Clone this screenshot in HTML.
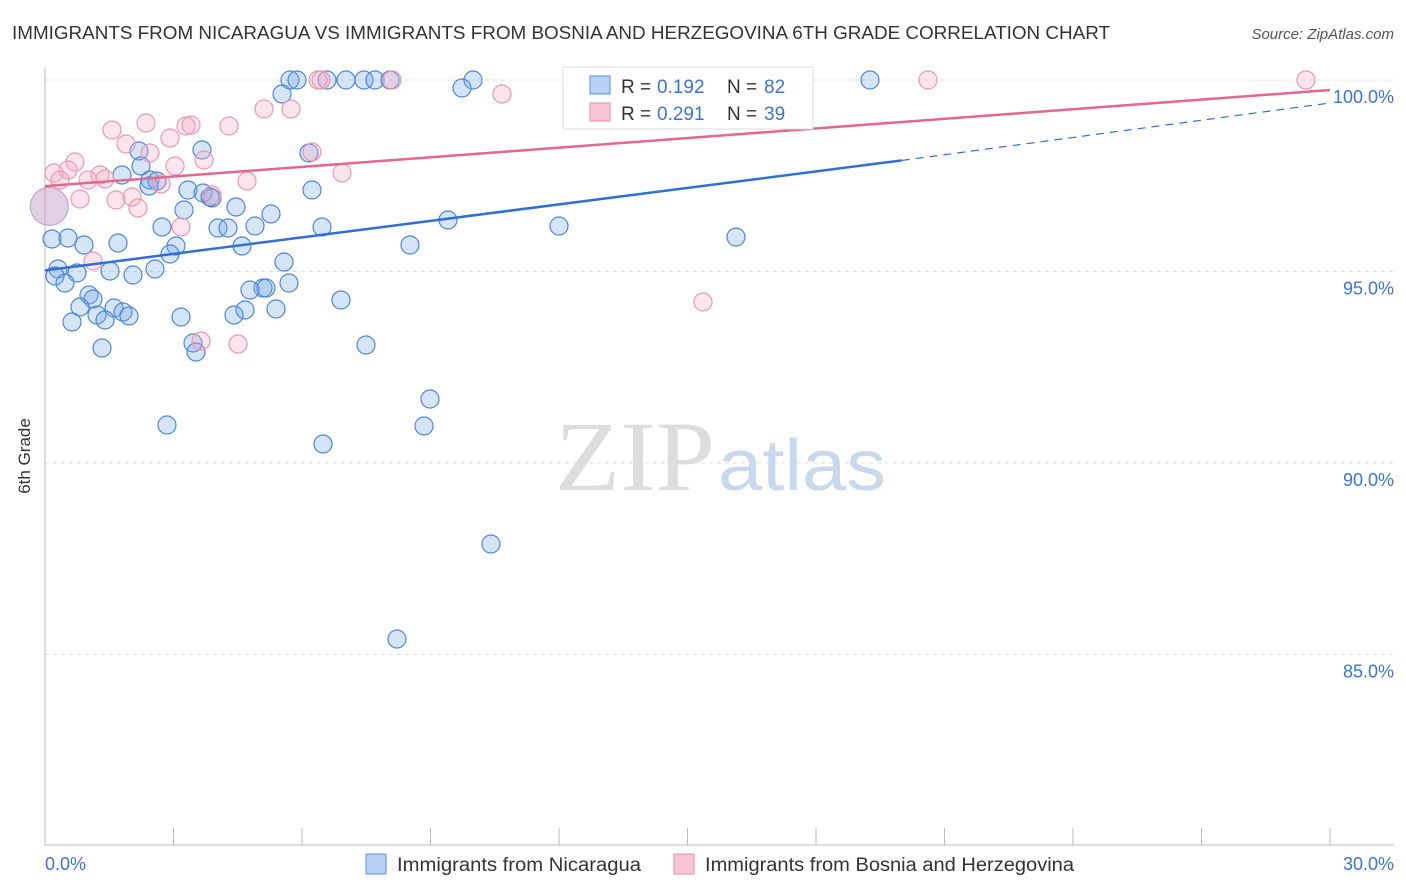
<!DOCTYPE html>
<html><head><meta charset="utf-8"><style>
body{margin:0;background:#fff;font-family:"Liberation Sans",sans-serif;}
svg{display:block}
</style></head><body>
<svg id="chart" width="1406" height="892" xmlns="http://www.w3.org/2000/svg">
<text x="12" y="39" font-size="18" fill="#333" textLength="1098" lengthAdjust="spacingAndGlyphs">IMMIGRANTS FROM NICARAGUA VS IMMIGRANTS FROM BOSNIA AND HERZEGOVINA 6TH GRADE CORRELATION CHART</text>
<text x="1394" y="39" font-size="15" fill="#555" font-style="italic" text-anchor="end">Source: ZipAtlas.com</text>
<text x="555" y="490" font-size="100" fill="#ddd" textLength="160" lengthAdjust="spacingAndGlyphs" font-family="Liberation Serif,serif">ZIP</text>
<text x="718" y="490" font-size="72" fill="#c8d8ef" textLength="168" lengthAdjust="spacingAndGlyphs">atlas</text>
<g id="grid"></g>
<line x1="45" y1="68" x2="45" y2="845" stroke="#bbb"/>
<line x1="45" y1="845" x2="1394" y2="845" stroke="#bbb"/>
<text x="30" y="456" font-size="17" fill="#333" text-anchor="middle" transform="rotate(-90 30 456)">6th Grade</text>
<text x="45" y="870" font-size="18" fill="#3b74d4">0.0%</text>
<text x="1394" y="870" font-size="18" fill="#3b74d4" text-anchor="end">30.0%</text>
<g id="marks"></g>
<g>
<rect x="563" y="67" width="250" height="62" fill="#fff" stroke="#ddd"/>
<rect x="590" y="76" width="20" height="18" fill="#b8d0f3" stroke="#5b8fe0"/>
<text x="621" y="93" font-size="19" fill="#333">R =</text>
<text x="657" y="93" font-size="19" fill="#3b74d4">0.192</text>
<text x="727" y="93" font-size="19" fill="#333">N =</text>
<text x="764" y="93" font-size="19" fill="#3b74d4">82</text>
<rect x="590" y="103" width="20" height="18" fill="#f7c5d3" stroke="#e88aa6"/>
<text x="621" y="120" font-size="19" fill="#333">R =</text>
<text x="657" y="120" font-size="19" fill="#3b74d4">0.291</text>
<text x="727" y="120" font-size="19" fill="#333">N =</text>
<text x="764" y="120" font-size="19" fill="#3b74d4">39</text>
</g>
<g>
<rect x="366" y="854" width="20" height="20" fill="#b8d0f3" stroke="#5b8fe0"/>
<text x="397" y="871" font-size="19" fill="#333" textLength="244" lengthAdjust="spacingAndGlyphs">Immigrants from Nicaragua</text>
<rect x="674" y="854" width="20" height="20" fill="#f7c5d3" stroke="#e88aa6"/>
<text x="705" y="871" font-size="19" fill="#333" textLength="369" lengthAdjust="spacingAndGlyphs">Immigrants from Bosnia and Herzegovina</text>
</g>
</svg>
<script>
const yTicks=[100,95,90,85];
const yTickLabels=["100.0%","95.0%","90.0%","85.0%"];
const xTickVals=[0,3,6,9,12,15,18,21,24,27,30];
const bluePx=[[290,80],[297,80],[327,80],[346,80],[364,80],[375,80],[390,80],[473,80],[870,80],[462,88],[282,94],[202,150],[139,151],[309,153],[141,166],[122,175],[150,180],[157,181],[312,190],[188,190],[149,186],[203,193],[212,198],[236,207],[184,210],[271,214],[448,220],[559,226],[162,227],[218,228],[228,228],[255,226],[322,227],[736,237],[52,239],[68,238],[118,243],[84,245],[176,246],[242,246],[410,245],[170,254],[284,262],[58,269],[155,269],[77,273],[110,271],[133,275],[55,276],[65,283],[289,283],[263,288],[250,290],[266,288],[89,295],[93,299],[341,300],[80,307],[245,310],[114,308],[123,312],[129,316],[276,309],[234,315],[181,317],[97,315],[72,322],[105,320],[193,343],[196,352],[102,348],[366,345],[430,399],[167,425],[424,426],[323,444],[491,544],[397,639],[210,197]];
const pinkPx=[[318,80],[321,80],[392,80],[928,80],[1306,80],[502,94],[264,109],[291,109],[112,130],[146,123],[229,126],[186,126],[191,125],[126,144],[170,138],[150,153],[75,162],[204,160],[312,152],[68,170],[54,173],[88,180],[100,175],[105,179],[175,166],[342,173],[161,184],[247,181],[80,199],[116,200],[132,197],[138,208],[212,195],[181,227],[93,261],[703,302],[201,341],[238,344],[60,180]];
const X0=45,X1=1330,Y100=80,PXPER=38.3;
const xs=v=>X0+v/30*(X1-X0);
const ys=v=>Y100+(100-v)*PXPER;
const toV=p=>[(p[0]-X0)/(X1-X0)*30,100-(p[1]-Y100)/PXPER];
const blueX=bluePx.map(p=>toV(p)[0]), blueY=bluePx.map(p=>toV(p)[1]);
const pinkX=pinkPx.map(p=>toV(p)[0]), pinkY=pinkPx.map(p=>toV(p)[1]);
const blueTrend=[[0,95.03],[20,97.9],[30,99.4]];
const pinkTrend=[[0,97.23],[30,99.74]];
const NS="http://www.w3.org/2000/svg";
const grid=document.getElementById('grid'), marks=document.getElementById('marks');
function mk(t,a,parent){const e=document.createElementNS(NS,t);for(const k in a)e.setAttribute(k,a[k]);parent.appendChild(e);return e;}
yTicks.forEach((v,i)=>{
 const l=mk('line',{x1:45,x2:1394,y1:ys(v),y2:ys(v),stroke:'#ddd','stroke-dasharray':'4,4'},grid);
 
 
 const t=mk('text',{x:1394,y:ys(v)+23,'font-size':18,fill:'#3b74d4','text-anchor':'end'},grid);
 t.textContent=yTickLabels[i];
 
 
});
xTickVals.forEach(v=>{
 const l=mk('line',{x1:xs(v),x2:xs(v),y1:828,y2:845,stroke:'#bbb'},grid);
 
 
});
const big=mk('circle',{cx:xs(0.1),cy:ys(96.7),r:19,fill:'rgba(200,160,200,0.5)',stroke:'#b99bc8'},marks);


blueX.forEach((x,i)=>{
 const c=mk('circle',{cx:xs(x),cy:ys(blueY[i]),r:9,fill:'rgba(120,165,230,0.3)',stroke:'#4a86dc','stroke-width':1.2},marks);
 
 
});
pinkX.forEach((x,i)=>{
 const c=mk('circle',{cx:xs(x),cy:ys(pinkY[i]),r:9,fill:'rgba(245,170,195,0.3)',stroke:'#ec97b1','stroke-width':1.2},marks);
 
 
});
let l=mk('line',{x1:xs(blueTrend[0][0]),y1:ys(blueTrend[0][1]),x2:xs(blueTrend[1][0]),y2:ys(blueTrend[1][1]),stroke:'#2f6fd6','stroke-width':2.5},marks);


l=mk('line',{x1:xs(blueTrend[1][0]),y1:ys(blueTrend[1][1]),x2:xs(blueTrend[2][0]),y2:ys(blueTrend[2][1]),stroke:'#2f6fd6','stroke-width':1.2,'stroke-dasharray':'8,6'},marks);


l=mk('line',{x1:xs(pinkTrend[0][0]),y1:ys(pinkTrend[0][1]),x2:xs(pinkTrend[1][0]),y2:ys(pinkTrend[1][1]),stroke:'#e5668f','stroke-width':2.5},marks);


</script>
</body></html>
